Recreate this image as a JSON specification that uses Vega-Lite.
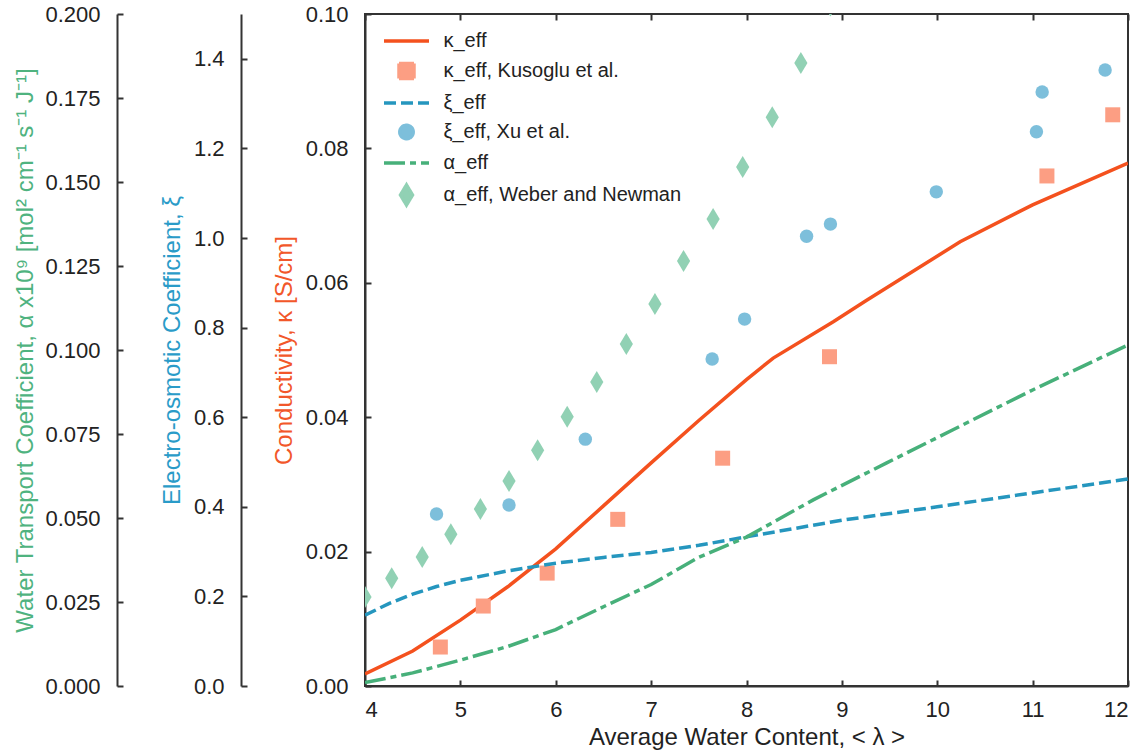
{
  "$schema": "https://vega.github.io/schema/vega-lite/v6.json",
  "width": 763,
  "height": 672,
  "autosize": {"type": "none"},
  "padding": {"left": 365, "top": 14, "right": 18, "bottom": 67},
  "background": "white",
  "config": {
    "view": {"stroke": "#333", "strokeWidth": 2},
    "axis": {
      "grid": false,
      "domainColor": "#333",
      "domainWidth": 2,
      "tickColor": "#333",
      "tickWidth": 2,
      "tickSize": -6,
      "labelFont": "Liberation Sans",
      "labelFontSize": 22,
      "labelColor": "#222",
      "titleFont": "Liberation Sans",
      "titleFontSize": 24,
      "titleFontWeight": "normal",
      "titleColor": "#222"
    }
  },
  "datasets": {
    "kappaLine": [
      {"lam": 4.0, "val": 0.0018, "series": "κ_eff"},
      {"lam": 4.5, "val": 0.0052, "series": "κ_eff"},
      {"lam": 5.0, "val": 0.0098, "series": "κ_eff"},
      {"lam": 5.5, "val": 0.0148, "series": "κ_eff"},
      {"lam": 6.0, "val": 0.0204, "series": "κ_eff"},
      {"lam": 6.5, "val": 0.0268, "series": "κ_eff"},
      {"lam": 7.0, "val": 0.0332, "series": "κ_eff"},
      {"lam": 7.5, "val": 0.0395, "series": "κ_eff"},
      {"lam": 8.0, "val": 0.0456, "series": "κ_eff"},
      {"lam": 8.28, "val": 0.0488, "series": "κ_eff"},
      {"lam": 8.91, "val": 0.0542, "series": "κ_eff"},
      {"lam": 9.26, "val": 0.0574, "series": "κ_eff"},
      {"lam": 10.24, "val": 0.0661, "series": "κ_eff"},
      {"lam": 11.0, "val": 0.0716, "series": "κ_eff"},
      {"lam": 12.0, "val": 0.0778, "series": "κ_eff"}
    ],
    "kappaExp": [
      {"lam": 4.79, "val": 0.0058, "series": "κ_eff, Kusoglu et al."},
      {"lam": 5.24, "val": 0.0119, "series": "κ_eff, Kusoglu et al."},
      {"lam": 5.91, "val": 0.0168, "series": "κ_eff, Kusoglu et al."},
      {"lam": 6.65, "val": 0.0248, "series": "κ_eff, Kusoglu et al."},
      {"lam": 7.75, "val": 0.0339, "series": "κ_eff, Kusoglu et al."},
      {"lam": 8.87, "val": 0.0490, "series": "κ_eff, Kusoglu et al."},
      {"lam": 11.15, "val": 0.0759, "series": "κ_eff, Kusoglu et al."},
      {"lam": 11.84, "val": 0.0850, "series": "κ_eff, Kusoglu et al."}
    ],
    "xiLine": [
      {"lam": 4.0, "val": 0.158, "series": "ξ_eff"},
      {"lam": 4.25, "val": 0.184, "series": "ξ_eff"},
      {"lam": 4.5, "val": 0.205, "series": "ξ_eff"},
      {"lam": 4.75, "val": 0.222, "series": "ξ_eff"},
      {"lam": 5.0, "val": 0.236, "series": "ξ_eff"},
      {"lam": 5.5, "val": 0.257, "series": "ξ_eff"},
      {"lam": 6.0, "val": 0.274, "series": "ξ_eff"},
      {"lam": 6.5, "val": 0.287, "series": "ξ_eff"},
      {"lam": 7.0, "val": 0.298, "series": "ξ_eff"},
      {"lam": 7.5, "val": 0.314, "series": "ξ_eff"},
      {"lam": 8.0, "val": 0.333, "series": "ξ_eff"},
      {"lam": 9.0, "val": 0.370, "series": "ξ_eff"},
      {"lam": 10.0, "val": 0.400, "series": "ξ_eff"},
      {"lam": 11.0, "val": 0.431, "series": "ξ_eff"},
      {"lam": 12.0, "val": 0.462, "series": "ξ_eff"}
    ],
    "xiExp": [
      {"lam": 4.75, "val": 0.384, "series": "ξ_eff, Xu et al."},
      {"lam": 5.51, "val": 0.404, "series": "ξ_eff, Xu et al."},
      {"lam": 6.31, "val": 0.551, "series": "ξ_eff, Xu et al."},
      {"lam": 7.64, "val": 0.730, "series": "ξ_eff, Xu et al."},
      {"lam": 7.98, "val": 0.819, "series": "ξ_eff, Xu et al."},
      {"lam": 8.63, "val": 1.004, "series": "ξ_eff, Xu et al."},
      {"lam": 8.88, "val": 1.031, "series": "ξ_eff, Xu et al."},
      {"lam": 9.99, "val": 1.103, "series": "ξ_eff, Xu et al."},
      {"lam": 11.04, "val": 1.237, "series": "ξ_eff, Xu et al."},
      {"lam": 11.10, "val": 1.326, "series": "ξ_eff, Xu et al."},
      {"lam": 11.76, "val": 1.375, "series": "ξ_eff, Xu et al."}
    ],
    "alphaLine": [
      {"lam": 4.0, "val": 0.0010, "series": "α_eff"},
      {"lam": 4.5, "val": 0.0039, "series": "α_eff"},
      {"lam": 5.0, "val": 0.0077, "series": "α_eff"},
      {"lam": 5.5, "val": 0.0118, "series": "α_eff"},
      {"lam": 6.0, "val": 0.0168, "series": "α_eff"},
      {"lam": 6.5, "val": 0.0236, "series": "α_eff"},
      {"lam": 7.0, "val": 0.0302, "series": "α_eff"},
      {"lam": 7.5, "val": 0.0383, "series": "α_eff"},
      {"lam": 8.0, "val": 0.0443, "series": "α_eff"},
      {"lam": 8.7, "val": 0.0554, "series": "α_eff"},
      {"lam": 9.47, "val": 0.0664, "series": "α_eff"},
      {"lam": 10.16, "val": 0.0762, "series": "α_eff"},
      {"lam": 11.0, "val": 0.0881, "series": "α_eff"},
      {"lam": 12.0, "val": 0.1015, "series": "α_eff"}
    ],
    "alphaExp": [
      {"lam": 4.0, "val": 0.0265, "series": "α_eff, Weber and Newman"},
      {"lam": 4.28, "val": 0.0321, "series": "α_eff, Weber and Newman"},
      {"lam": 4.60, "val": 0.0384, "series": "α_eff, Weber and Newman"},
      {"lam": 4.90, "val": 0.0452, "series": "α_eff, Weber and Newman"},
      {"lam": 5.21, "val": 0.0527, "series": "α_eff, Weber and Newman"},
      {"lam": 5.51, "val": 0.0610, "series": "α_eff, Weber and Newman"},
      {"lam": 5.81, "val": 0.0702, "series": "α_eff, Weber and Newman"},
      {"lam": 6.12, "val": 0.0801, "series": "α_eff, Weber and Newman"},
      {"lam": 6.43, "val": 0.0905, "series": "α_eff, Weber and Newman"},
      {"lam": 6.74, "val": 0.1018, "series": "α_eff, Weber and Newman"},
      {"lam": 7.04, "val": 0.1137, "series": "α_eff, Weber and Newman"},
      {"lam": 7.34, "val": 0.1265, "series": "α_eff, Weber and Newman"},
      {"lam": 7.65, "val": 0.1390, "series": "α_eff, Weber and Newman"},
      {"lam": 7.96, "val": 0.1545, "series": "α_eff, Weber and Newman"},
      {"lam": 8.27, "val": 0.1693, "series": "α_eff, Weber and Newman"},
      {"lam": 8.57, "val": 0.1854, "series": "α_eff, Weber and Newman"},
      {"lam": 8.88, "val": 0.2025, "series": "α_eff, Weber and Newman"}
    ]
  },
  "layer": [
    {
      "layer": [
        {
          "data": {"name": "kappaLine"},
          "mark": {"type": "line", "strokeWidth": 3.5, "clip": true},
          "encoding": {
            "x": {"field": "lam", "type": "quantitative", "scale": {"domain": [4, 12], "nice": false},
              "axis": {"orient": "bottom", "values": [4,5,6,7,8,9,10,11,12], "format": "d", "labelPadding": 19,
                "title": "Average Water Content, < λ >", "titlePadding": 5}},
            "y": {"field": "val", "type": "quantitative", "scale": {"domain": [0, 0.1], "nice": false},
              "axis": {"orient": "left", "offset": 0, "values": [0,0.02,0.04,0.06,0.08,0.1], "format": ".2f",
                "labelPadding": 23, "title": "Conductivity, κ [S/cm]", "titleColor": "#f2572a", "titlePadding": 9}},
            "color": {"field": "series", "type": "nominal",
              "scale": {
                "domain": ["κ_eff", "κ_eff, Kusoglu et al.", "ξ_eff", "ξ_eff, Xu et al.", "α_eff", "α_eff, Weber and Newman"],
                "range": ["#f4511e", "#fc9e83", "#2596be", "#7dbfdb", "#47b07a", "#91d1b4"]
              },
              "legend": {
                "orient": "none",
                "legendX": 29.5,
                "legendY": 15,
                "padding": 0,
                "title": null,
                "symbolSize": 400,
                "labelFont": "Liberation Sans",
                "labelFontSize": 20,
                "labelColor": "#222",
                "labelOffset": 25,
                "labelLimit": 500,
                "rowPadding": 5,
                "encoding": {
                  "symbols": {
                    "shape": {"value": {"expr": "datum.value == 'κ_eff, Kusoglu et al.' ? 'square' : datum.value == 'ξ_eff, Xu et al.' ? 'circle' : datum.value == 'α_eff, Weber and Newman' ? 'M0,-1L0.6,0L0,1L-0.6,0Z' : 'M-2.25,0L2.25,0'"}},
                    "size": {"value": {"expr": "datum.value == 'κ_eff, Kusoglu et al.' ? 225 : datum.value == 'ξ_eff, Xu et al.' ? 180 : datum.value == 'α_eff, Weber and Newman' ? 400 : 400"}},
                    "fill": {"value": {"expr": "datum.value == 'κ_eff, Kusoglu et al.' ? '#fc9e83' : datum.value == 'ξ_eff, Xu et al.' ? '#7dbfdb' : datum.value == 'α_eff, Weber and Newman' ? '#91d1b4' : 'transparent'"}},
                    "stroke": {"value": {"expr": "datum.value == 'κ_eff' ? '#f4511e' : datum.value == 'ξ_eff' ? '#2596be' : datum.value == 'α_eff' ? '#47b07a' : 'transparent'"}},
                    "strokeWidth": {"value": 3.5},
                    "strokeDash": {"value": {"expr": "datum.value == 'ξ_eff' ? [12,5] : datum.value == 'α_eff' ? [21,5,6,5] : [1,0]"}},
                    "opacity": {"value": 1}
                  }
                }
              }
            }
          }
        },
        {
          "data": {"name": "kappaExp"},
          "mark": {"type": "point", "shape": "square", "filled": true, "size": 225, "opacity": 1, "clip": true},
          "encoding": {
            "x": {"field": "lam", "type": "quantitative"},
            "y": {"field": "val", "type": "quantitative"},
            "color": {"field": "series", "type": "nominal"}
          }
        }
      ]
    },
    {
      "layer": [
        {
          "data": {"name": "xiLine"},
          "mark": {"type": "line", "strokeWidth": 3.5, "strokeDash": [12, 5], "clip": true},
          "encoding": {
            "x": {"field": "lam", "type": "quantitative", "scale": {"domain": [4, 12], "nice": false},
              "axis": {"orient": "top", "values": [4,5,6,7,8,9,10,11,12], "labels": false, "domain": false, "title": null}},
            "y": {"field": "val", "type": "quantitative", "scale": {"domain": [0, 1.5], "nice": false},
              "axis": {"orient": "left", "offset": 124, "values": [0,0.2,0.4,0.6,0.8,1.0,1.2,1.4], "format": ".1f",
                "labelPadding": 23, "title": "Electro-osmotic Coefficient, ξ", "titleColor": "#2a9bc8", "titlePadding": 9}},
            "color": {"field": "series", "type": "nominal"}
          }
        },
        {
          "data": {"name": "xiExp"},
          "mark": {"type": "point", "shape": "circle", "filled": true, "size": 180, "opacity": 1, "clip": true},
          "encoding": {
            "x": {"field": "lam", "type": "quantitative"},
            "y": {"field": "val", "type": "quantitative"},
            "color": {"field": "series", "type": "nominal"}
          }
        }
      ]
    },
    {
      "layer": [
        {
          "data": {"name": "alphaLine"},
          "mark": {"type": "line", "strokeWidth": 3.5, "strokeDash": [21, 5, 6, 5], "clip": true},
          "encoding": {
            "x": {"field": "lam", "type": "quantitative", "scale": {"domain": [4, 12], "nice": false}, "axis": null},
            "y": {"field": "val", "type": "quantitative", "scale": {"domain": [0, 0.2], "nice": false},
              "axis": {"orient": "left", "offset": 248, "values": [0,0.025,0.05,0.075,0.1,0.125,0.15,0.175,0.2], "format": ".3f",
                "labelPadding": 23, "title": "Water Transport Coefficient, α x10⁹ [mol² cm⁻¹ s⁻¹ J⁻¹]", "titleColor": "#4fb37f", "titlePadding": 7}},
            "color": {"field": "series", "type": "nominal"}
          }
        },
        {
          "data": {"name": "alphaExp"},
          "mark": {"type": "point", "shape": "M0,-1L0.6,0L0,1L-0.6,0Z", "filled": true, "size": 484, "opacity": 1, "clip": true},
          "encoding": {
            "x": {"field": "lam", "type": "quantitative"},
            "y": {"field": "val", "type": "quantitative"},
            "color": {"field": "series", "type": "nominal"}
          }
        }
      ]
    }
  ],
  "resolve": {"scale": {"x": "independent", "y": "independent"}, "axis": {"x": "independent", "y": "independent"}}
}
